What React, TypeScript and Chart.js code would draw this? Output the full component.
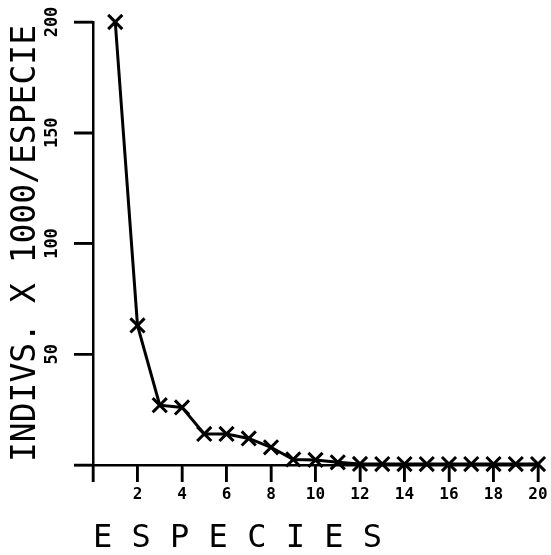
import { useEffect, useRef } from "react";
import { Chart, registerables } from "chart.js";

Chart.register(...registerables);

const species = [1, 2, 3, 4, 5, 6, 7, 8, 9, 10, 11, 12, 13, 14, 15, 16, 17, 18, 19, 20];
const individuals = [200, 63, 27, 26, 14, 14, 12, 8, 2.5, 2.3, 1.2, 0.5, 0.4, 0.4, 0.4, 0.4, 0.4, 0.4, 0.4, 0.4];
const xTickLabels = ["", "2", "4", "6", "8", "10", "12", "14", "16", "18", "20"];
const yTickLabels = ["", "50", "100", "150", "200"];
const xTitle = "E S P E C I E S";
const yTitle = "INDIVS. X 1000/ESPECIE";

const MONO = "'DejaVu Sans Mono', 'Liberation Mono', monospace";
const X_TICK_LEN = 17;
const Y_TICK_LEN = 19;

const tickMarks = {
  id: "tickMarks",
  afterDraw(chart: any) {
    const ctx = chart.ctx as CanvasRenderingContext2D;
    const xs = chart.scales.x;
    const ys = chart.scales.y;
    ctx.save();
    ctx.strokeStyle = "#000";
    ctx.lineWidth = 2.5;
    ctx.lineCap = "butt";
    ctx.beginPath();
    xs.ticks.forEach((t: any) => {
      const px = xs.getPixelForValue(t.value);
      ctx.moveTo(px, xs.top);
      ctx.lineTo(px, xs.top + X_TICK_LEN);
    });
    ys.ticks.forEach((t: any) => {
      const py = ys.getPixelForValue(t.value);
      ctx.moveTo(ys.right - Y_TICK_LEN, py);
      ctx.lineTo(ys.right, py);
    });
    ctx.stroke();
    ctx.restore();
  },
};

export default function App() {
  const canvasRef = useRef<HTMLCanvasElement | null>(null);

  useEffect(() => {
    if (!canvasRef.current) return;
    const chart = new Chart(canvasRef.current, {
      type: "line",
      data: {
        datasets: [
          {
            data: species.map((s, i) => ({ x: s, y: individuals[i] })),
            borderColor: "#000",
            borderWidth: 3,
            pointStyle: "crossRot",
            pointRadius: 10,
            pointBorderWidth: 3,
            pointBorderColor: "#000",
            pointBackgroundColor: "#000",
            tension: 0,
            fill: false,
            clip: false as any,
          },
        ],
      },
      options: {
        responsive: false,
        animation: false,
        layout: { padding: { left: 0, right: 11, top: 22, bottom: 0 } },
        plugins: { legend: { display: false }, tooltip: { enabled: false } },
        scales: {
          x: {
            type: "linear",
            min: 0,
            max: 20,
            afterFit: (s: any) => {
              s.height = 90;
              s.paddingLeft = 0;
              s.paddingRight = 0;
              s.paddingTop = 0;
              s.paddingBottom = 0;
            },
            border: { display: true, color: "#000", width: 2.5 },
            grid: {
              drawOnChartArea: false,
              drawTicks: true,
              tickLength: X_TICK_LEN,
              color: "#000",
              lineWidth: 2.5,
            },
            ticks: {
              stepSize: 2,
              maxRotation: 0,
              minRotation: 0,
              autoSkip: false,
              padding: 3,
              color: "#000",
              font: { family: MONO, size: 16, weight: "bold" },
              callback: (v: any) => xTickLabels[Math.round(Number(v) / 2)] ?? "",
            },
            title: {
              display: true,
              text: xTitle,
              align: "start",
              color: "#000",
              font: { family: MONO, size: 32, lineHeight: 1 },
              padding: { top: 0, bottom: 0 },
            },
          },
          y: {
            type: "linear",
            min: 0,
            max: 200,
            afterFit: (s: any) => {
              s.width = 93;
              s.paddingLeft = 0;
              s.paddingRight = 0;
              s.paddingTop = 0;
              s.paddingBottom = 0;
            },
            border: { display: true, color: "#000", width: 2.5 },
            grid: {
              drawOnChartArea: false,
              drawTicks: true,
              tickLength: Y_TICK_LEN,
              color: "#000",
              lineWidth: 2.5,
            },
            ticks: {
              stepSize: 50,
              minRotation: 90,
              maxRotation: 90,
              crossAlign: "center",
              padding: 6,
              color: "#000",
              font: { family: MONO, size: 17, weight: "bold" },
              callback: (v: any) => yTickLabels[Math.round(Number(v) / 50)] ?? "",
            },
            title: {
              display: true,
              text: yTitle,
              color: "#000",
              font: { family: MONO, size: 33, lineHeight: 1 },
              padding: { top: 10, bottom: 0 },
            },
          },
        },
      },
      plugins: [tickMarks],
    } as any);
    return () => chart.destroy();
  }, []);

  return (
    <div style={{ position: "fixed", left: 0, top: 0, width: 551, height: 555, background: "#fff" }}>
      <canvas ref={canvasRef} width={551} height={555} style={{ display: "block" }} />
    </div>
  );
}
